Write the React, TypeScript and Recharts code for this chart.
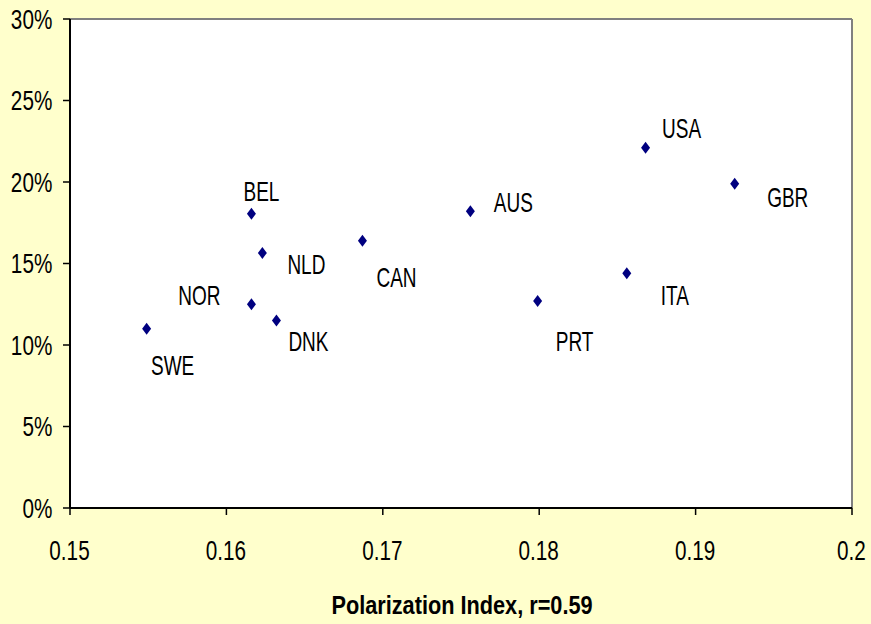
import React from 'react';
import {
  ScatterChart, Scatter, XAxis, YAxis, CartesianGrid, ReferenceLine
} from 'recharts';

// countries, polarization index and share (%)
const countries = ['SWE', 'NOR', 'BEL', 'NLD', 'DNK', 'CAN', 'AUS', 'PRT', 'ITA', 'USA', 'GBR'];
const polarization = [0.1549, 0.1616, 0.1616, 0.1623, 0.1632, 0.1687, 0.1756, 0.1799, 0.1856, 0.1868, 0.1925];
const share = [11.0, 12.5, 18.05, 15.65, 11.5, 16.4, 18.2, 12.7, 14.4, 22.1, 19.9];

const xTicks = [0.15, 0.16, 0.17, 0.18, 0.19, 0.2];
const yTicks = [0, 5, 10, 15, 20, 25, 30];
const xTitle = 'Polarization Index, r=0.59';

// label centre x / baseline y relative to the marker
const labelOffsets: Record<string, [number, number]> = {
  SWE: [26, 46], NOR: [-52, 1], BEL: [10, -13], NLD: [44, 21], DNK: [32, 30],
  CAN: [34, 46], AUS: [43, 1], PRT: [37, 50], ITA: [48, 32], USA: [36, -10], GBR: [53, 23],
};

const data = countries.map((name, i) => ({ name, x: polarization[i], y: share[i] }));

const FONT = '"Liberation Sans", Arial, sans-serif';

// Excel-style tall, narrow text
const Stretch = ({ x, y, anchor = 'middle', size = 20.7, sy = 1.3, bold = false, children }: any) => (
  <text
    transform={`translate(${x} ${y}) scale(1 ${sy})`}
    textAnchor={anchor}
    fontFamily={FONT}
    fontSize={size}
    fontWeight={bold ? 'bold' : 'normal'}
    fill="#000"
  >
    {children}
  </text>
);

const XTick = ({ x, payload }: any) => (
  <Stretch x={x - 0.5} y={559.5}>{String(payload.value)}</Stretch>
);

const YTick = ({ y, payload }: any) => (
  <Stretch x={52.3} y={y + 9.7} anchor="end">{payload.value + '%'}</Stretch>
);

const Marker = ({ cx, cy, payload }: any) => {
  const [dx, dy] = labelOffsets[payload.name] || [0, 0];
  return (
    <g>
      <polygon
        points={`${cx},${cy - 6} ${cx + 4.5},${cy} ${cx},${cy + 6} ${cx - 4.5},${cy}`}
        fill="#000080"
      />
      <Stretch x={cx + dx} y={cy + dy} size={19} sy={1.48}>{payload.name}</Stretch>
    </g>
  );
};

const XTitle = () => (
  <Stretch x={462} y={614} size={21.7} sy={1.16} bold>{xTitle}</Stretch>
);

export default function App() {
  return (
    <div style={{ position: 'absolute', left: 0, top: 0, width: 871, height: 624, background: '#FFFFCC' }}>
      <ScatterChart width={871} height={624} margin={{ top: 19, right: 19, bottom: 0, left: 0 }}>
        <CartesianGrid fill="#ffffff" horizontal={false} vertical={false} />
        <XAxis
          type="number"
          dataKey="x"
          domain={[0.15, 0.2]}
          ticks={xTicks}
          interval={0}
          height={116}
          tickSize={7}
          tick={<XTick />}
          tickLine={{ stroke: '#000', strokeWidth: 1.5 }}
          axisLine={{ stroke: '#000', strokeWidth: 2 }}
          label={<XTitle />}
        />
        <YAxis
          type="number"
          dataKey="y"
          domain={[0, 30]}
          ticks={yTicks}
          interval={0}
          width={70}
          tickSize={7}
          tick={<YTick />}
          tickLine={{ stroke: '#000', strokeWidth: 1.5 }}
          axisLine={{ stroke: '#000', strokeWidth: 2 }}
        />
        <ReferenceLine y={30} stroke="#808080" strokeWidth={2} />
        <ReferenceLine x={0.2} stroke="#808080" strokeWidth={2} />
        <Scatter data={data} shape={<Marker />} isAnimationActive={false} />
      </ScatterChart>
    </div>
  );
}
